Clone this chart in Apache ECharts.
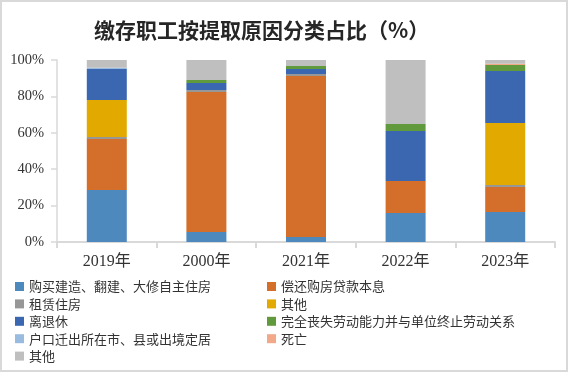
<!DOCTYPE html>
<html>
<head>
<meta charset="utf-8">
<script src="https://cdn.jsdelivr.net/npm/echarts@6/dist/echarts.min.js"></script>
<style>
html,body{margin:0;padding:0;background:#fff;}
#main{width:568px;height:372px;}
</style>
</head>
<body>
<div id="main"></div>
<script>
const categories = ['2019年', '2000年', '2021年', '2022年', '2023年'];
const yTicks = [0, 20, 40, 60, 80, 100];

const seriesNames = [
  '购买建造、翻建、大修自主住房',
  '偿还购房贷款本息',
  '租赁住房',
  '其他#1',
  '离退休',
  '完全丧失劳动能力并与单位终止劳动关系',
  '户口迁出所在市、县或出境定居',
  '死亡',
  '其他#2'
];
const purchase   = [28.6, 5.5, 2.7, 15.9, 16.5];
const repayLoan  = [28.0, 76.9, 88.5, 17.6, 13.7];
const rent       = [1.1, 1.1, 1.1, 0, 1.1];
const otherA     = [20.3, 0, 0, 0, 34.1];
const retire     = [17.1, 3.9, 2.8, 27.5, 28.6];
const disability = [0, 1.6, 1.6, 3.8, 3.3];
const relocate   = [0.7, 0, 0, 0, 0];
const death      = [0, 0, 0, 0, 0.7];
const otherB     = [4.2, 11.0, 3.3, 35.2, 2.0];

const seriesData = [purchase, repayLoan, rent, otherA, retire, disability, relocate, death, otherB];
const colors = ['#4E89BE', '#D36F2A', '#979797', '#E2AA00', '#3A67B0', '#619A3D', '#9ABBE0', '#F2A98A', '#BFBFBF'];

const chart = echarts.init(document.getElementById('main'));
const legendText = { fontSize: 13, color: '#333', fontFamily: 'Noto Sans CJK SC' };
const legendCommon = {
  orient: 'vertical', itemWidth: 9, itemHeight: 9, itemGap: 4.4, icon: 'rect',
  textStyle: legendText, formatter: n => n.replace(/#\d$/, ''), padding: 0
};
chart.setOption({
  animation: false,
  color: colors,
  title: {
    text: '缴存职工按提取原因分类占比（%）',
    left: 89, top: 15,
    textStyle: { fontSize: 21, fontWeight: 'bold', color: '#262626', fontFamily: 'Noto Sans CJK SC' }
  },
  graphic: [{
    type: 'rect', silent: true,
    shape: { x: 1, y: 1, width: 566, height: 370 },
    style: { fill: 'none', stroke: '#D9D9D9', lineWidth: 2 }
  }],
  legend: [
    Object.assign({ left: 15, top: 280, data: [seriesNames[0], seriesNames[2], seriesNames[4], seriesNames[6], seriesNames[8]] }, legendCommon),
    Object.assign({ left: 267, top: 280, data: [seriesNames[1], seriesNames[3], seriesNames[5], seriesNames[7]] }, legendCommon)
  ],
  grid: { left: 57, right: 13, top: 60, bottom: 130 },
  xAxis: {
    type: 'category', data: categories,
    axisLine: { lineStyle: { color: '#D9D9D9', width: 2 } },
    axisTick: { show: true, length: 6, lineStyle: { color: '#D9D9D9', width: 2 } },
    axisLabel: { margin: 12, fontSize: 16, color: '#333', fontFamily: 'Liberation Serif, Noto Sans CJK SC' }
  },
  yAxis: {
    type: 'value', min: yTicks[0], max: yTicks[yTicks.length - 1], interval: 20,
    axisLine: { show: true, lineStyle: { color: '#D9D9D9', width: 1.5 } },
    axisTick: { show: true, length: 6, lineStyle: { color: '#D9D9D9', width: 1.5 } },
    splitLine: { show: false },
    axisLabel: { margin: 13, fontSize: 14.5, color: '#333', fontFamily: 'Liberation Serif', formatter: '{value}%' }
  },
  series: seriesNames.map((name, i) => ({
    name, type: 'bar', stack: 'total', barWidth: 40,
    data: seriesData[i],
    itemStyle: { color: colors[i] }
  }))
});
</script>
</body>
</html>
